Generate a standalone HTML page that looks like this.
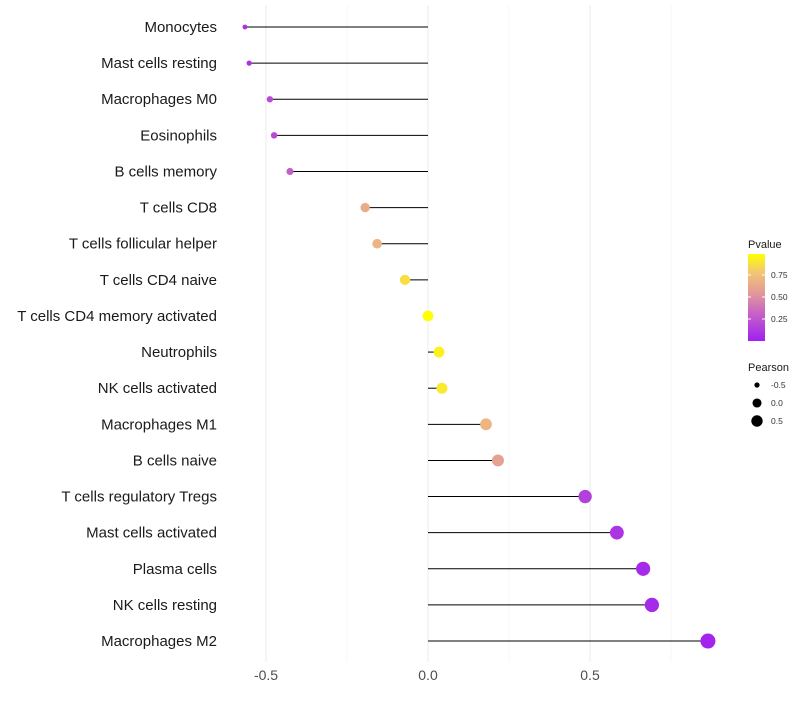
<!DOCTYPE html>
<html><head><meta charset="utf-8"><style>
body{margin:0;background:#fff;font-family:"Liberation Sans",sans-serif}
</style></head><body>
<svg id="c" width="800" height="700" xmlns="http://www.w3.org/2000/svg">
<defs><linearGradient id="g" x1="0" y1="1" x2="0" y2="0">
<stop offset="0" stop-color="#a020f0"/><stop offset="0.3" stop-color="#c45fc8"/><stop offset="0.55" stop-color="#e2989a"/><stop offset="0.8" stop-color="#f3c870"/><stop offset="1" stop-color="#ffff00"/></linearGradient></defs>
</svg>
<script>
const categories=["Monocytes","Mast cells resting","Macrophages M0","Eosinophils","B cells memory","T cells CD8","T cells follicular helper","T cells CD4 naive","T cells CD4 memory activated","Neutrophils","NK cells activated","Macrophages M1","B cells naive","T cells regulatory  Tregs ","Mast cells activated","Plasma cells","NK cells resting","Macrophages M2"];
const pearson=[-0.565,-0.552,-0.488,-0.475,-0.426,-0.194,-0.157,-0.071,0.0,0.034,0.043,0.179,0.216,0.485,0.583,0.664,0.691,0.864];
const pvalue=[0.08,0.08,0.2,0.2,0.3,0.65,0.7,0.88,1.0,0.95,0.92,0.7,0.6,0.15,0.1,0.05,0.05,0.02];
const xTicks=[-0.5,0,0.5];
const xMinor=[-0.25,0.25,0.75];
const ns="http://www.w3.org/2000/svg",svg=document.getElementById('c');
const x=v=>428+v*324, y=i=>27+i*36.12;
const rad=v=>1.5+6*Math.sqrt(Math.max(v+0.6,0.0)/1.46);
const stops=[[0,[160,32,240]],[0.3,[196,95,200]],[0.55,[226,152,154]],[0.8,[243,200,112]],[1,[255,255,0]]];
function col(p){for(let k=1;k<stops.length;k++){if(p<=stops[k][0]){const a=stops[k-1],b=stops[k],t=(p-a[0])/(b[0]-a[0]);return 'rgb('+a[1].map((c,j)=>Math.round(c+(b[1][j]-c)*t)).join(',')+')';}}return 'rgb(255,255,0)';}
function el(t,a,txt){const e=document.createElementNS(ns,t);for(const k in a)e.setAttribute(k,a[k]);if(txt!==undefined)e.textContent=txt;svg.appendChild(e);return e;}
xMinor.forEach(v=>{const e=el('line',{x1:x(v),x2:x(v),y1:5,y2:662,stroke:'#f2f2f2','stroke-width':0.6});

});
xTicks.forEach(v=>{const e=el('line',{x1:x(v),x2:x(v),y1:5,y2:662,stroke:'#ebebeb','stroke-width':1});


const t=el('text',{x:x(v),y:680,'text-anchor':'middle','font-size':14,fill:'#4d4d4d'},v===0?'0.0':v.toFixed(1));

});
categories.forEach((c,i)=>{
const t=el('text',{x:217,y:y(i)+5,'text-anchor':'end','font-size':15,fill:'#1a1a1a'},c);


const l=el('line',{x1:x(0),x2:x(pearson[i]),y1:y(i),y2:y(i),stroke:'#000','stroke-width':1});


const p=el('circle',{cx:x(pearson[i]),cy:y(i),r:rad(pearson[i]),fill:col(pvalue[i])});


});
let t=el('text',{x:748,y:248,'font-size':11,fill:'#1a1a1a'},'Pvalue');


let r=el('rect',{x:748,y:254,width:17,height:87,fill:'url(#g)'});


[[0.75,275],[0.5,297],[0.25,319]].forEach(([v,yy])=>{
el('line',{x1:748,x2:751,y1:yy,y2:yy,stroke:'#fff'});el('line',{x1:762,x2:765,y1:yy,y2:yy,stroke:'#fff'});
const e=el('text',{x:771,y:yy+3,'font-size':8.5,fill:'#333'},v.toFixed(2));

});
t=el('text',{x:748,y:371,'font-size':11,fill:'#1a1a1a'},'Pearson');


[[-0.5,385,'-0.5'],[0,403,'0.0'],[0.5,421,'0.5']].forEach(([v,yy,s])=>{
const c=el('circle',{cx:757,cy:yy,r:rad(v)*0.85,fill:'#000'});


const e=el('text',{x:771,y:yy+3,'font-size':8.5,fill:'#333'},s);

});
</script>
</body></html>
